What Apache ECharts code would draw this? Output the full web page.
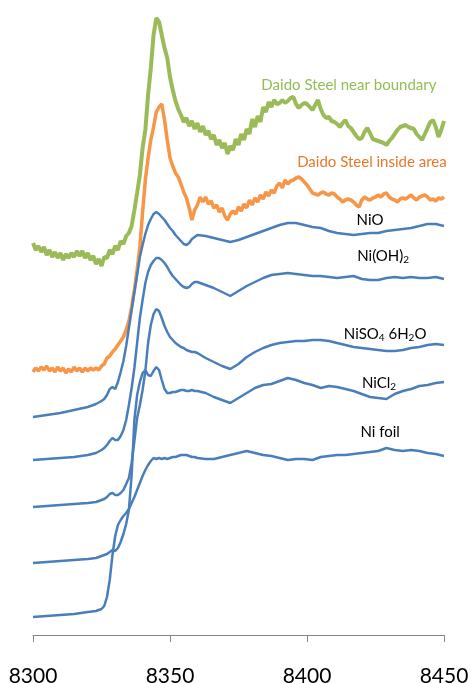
<!DOCTYPE html>
<html>
<head>
<meta charset="utf-8">
<script src="https://cdn.jsdelivr.net/npm/echarts@6/dist/echarts.min.js"></script>
<style>
html,body{margin:0;padding:0;background:#fff;}
#chart{width:471px;height:683px;}
</style>
</head>
<body>
<div id="chart"></div>
<script>
// Energy grid (eV) for the noisy sample scans
const energySample = [8300,8301,8302,8303,8304,8305,8306,8307,8308,8309,
8310,8311,8312,8313,8314,8315,8316,8317,8318,8319,
8320,8321,8322,8323,8324,8325,8326,8327,8328,8329,
8330,8331,8332,8333,8334,8335,8336,8337,8338,8339,
8340,8341,8342,8343,8344,8345,8346,8347,8348,8349,
8350,8351,8352,8353,8354,8355,8356,8357,8358,8359,
8360,8361,8362,8363,8364,8365,8366,8367,8368,8369,
8370,8371,8372,8373,8374,8375,8376,8377,8378,8379,
8380,8381,8382,8383,8384,8385,8386,8387,8388,8389,
8390,8391,8392,8393,8394,8395,8396,8397,8398,8399,
8400,8401,8402,8403,8404,8405,8406,8407,8408,8409,
8410,8411,8412,8413,8414,8415,8416,8417,8418,8419,
8420,8421,8422,8423,8424,8425,8426,8427,8428,8429,
8430,8431,8432,8433,8434,8435,8436,8437,8438,8439,
8440,8441,8442,8443,8444,8445,8446,8447,8448,8449,
8450];

const daidoBoundary = [3.92,3.85,3.89,3.83,3.88,3.80,3.85,3.78,3.83,3.77,
3.82,3.75,3.81,3.77,3.82,3.78,3.84,3.79,3.84,3.77,
3.82,3.75,3.79,3.71,3.76,3.69,3.78,3.77,3.85,3.81,
3.89,3.85,3.94,3.91,3.99,4.02,4.09,4.25,4.42,4.60,
4.87,5.05,5.40,5.67,6.00,6.17,6.13,6.00,5.87,5.77,
5.58,5.45,5.34,5.26,5.20,5.13,5.17,5.09,5.14,5.06,
5.12,5.03,5.09,5.00,5.04,4.96,5.00,4.90,4.95,4.87,
4.92,4.81,4.89,4.85,4.96,4.90,5.01,4.95,5.06,5.01,
5.16,5.08,5.19,5.13,5.28,5.23,5.33,5.28,5.35,5.31,
5.32,5.35,5.32,5.34,5.37,5.38,5.31,5.27,5.30,5.32,
5.31,5.28,5.25,5.30,5.35,5.26,5.20,5.17,5.18,5.14,
5.13,5.11,5.08,5.12,5.15,5.09,5.07,5.03,4.99,4.96,
4.97,5.03,5.07,5.02,4.96,4.95,4.94,4.93,4.92,4.90,
4.94,4.97,5.01,5.05,5.08,5.09,5.10,5.08,5.07,5.06,
5.01,4.98,4.95,5.01,5.07,5.13,5.15,5.08,4.98,5.05,
5.14];

const daidoInside = [2.63,2.67,2.64,2.68,2.65,2.69,2.64,2.67,2.63,2.68,
2.64,2.67,2.62,2.66,2.63,2.68,2.64,2.67,2.63,2.67,
2.64,2.67,2.65,2.67,2.65,2.69,2.71,2.77,2.79,2.83,
2.86,2.90,2.94,2.98,3.05,3.14,3.28,3.45,3.65,3.88,
4.23,4.55,4.77,4.95,5.08,5.23,5.28,5.31,5.15,4.95,
4.77,4.69,4.62,4.58,4.51,4.43,4.37,4.27,4.15,4.25,
4.30,4.38,4.33,4.38,4.31,4.34,4.27,4.30,4.23,4.27,
4.19,4.15,4.21,4.24,4.21,4.28,4.24,4.31,4.27,4.35,
4.30,4.37,4.33,4.40,4.36,4.43,4.39,4.45,4.42,4.49,
4.52,4.47,4.55,4.51,4.54,4.55,4.57,4.58,4.56,4.53,
4.50,4.46,4.42,4.41,4.40,4.42,4.43,4.41,4.40,4.42,
4.41,4.38,4.36,4.33,4.35,4.36,4.35,4.33,4.30,4.28,
4.35,4.38,4.36,4.35,4.37,4.38,4.40,4.38,4.41,4.42,
4.38,4.36,4.35,4.33,4.36,4.37,4.36,4.38,4.40,4.37,
4.35,4.38,4.39,4.40,4.38,4.35,4.36,4.34,4.37,4.36,
4.38];

// Energy grid (eV) for the reference compounds
const energyRef = [8300,8305,8310,8315,8320,8323,8325,
8326,8327,8328,8329,8330,8331,8332,8333,8334,8335,
8336,8337,8338,8339,8340,8341,8342,8343,8344,8345,
8346,8347,8348,8349,8350,8351,8352,8353,8354,8355,
8356,8357,8358,8359,8360,
8363,8366,8369,8372,8375,8378,8381,8384,8387,8390,
8393,8396,8399,8402,8405,8408,8411,8414,8417,8420,
8423,8426,8429,8432,8435,8438,8441,8444,8447,8450];

const niO = [2.18,2.20,2.22,2.25,2.28,2.31,2.34,
2.36,2.40,2.46,2.48,2.46,2.53,2.63,2.74,2.89,3.07,
3.25,3.43,3.60,3.78,3.90,4.01,4.10,4.16,4.21,4.23,
4.21,4.18,4.15,4.11,4.07,4.04,4.00,3.97,3.94,3.91,
3.90,3.92,3.96,3.98,4.00,
3.99,3.97,3.95,3.93,3.95,3.98,4.01,4.04,4.07,4.10,
4.12,4.12,4.10,4.08,4.07,4.04,4.02,4.01,4.00,4.01,
4.02,4.02,4.04,4.05,4.06,4.07,4.09,4.11,4.11,4.09];

const niOH2 = [1.75,1.76,1.77,1.78,1.80,1.82,1.85,
1.87,1.90,1.94,1.97,1.95,1.95,1.99,2.05,2.15,2.30,
2.47,2.67,2.92,3.17,3.35,3.52,3.63,3.70,3.74,3.77,
3.77,3.75,3.72,3.68,3.63,3.59,3.56,3.53,3.50,3.48,
3.47,3.48,3.51,3.53,3.53,
3.50,3.47,3.43,3.39,3.44,3.49,3.53,3.57,3.60,3.61,
3.62,3.61,3.60,3.59,3.59,3.58,3.57,3.58,3.59,3.56,
3.55,3.55,3.57,3.58,3.57,3.58,3.57,3.57,3.58,3.56];

const niSO4 = [1.28,1.29,1.30,1.31,1.32,1.33,1.35,
1.36,1.38,1.41,1.42,1.40,1.40,1.42,1.45,1.51,1.57,
1.72,1.94,2.17,2.30,2.45,2.64,2.92,3.10,3.21,3.26,
3.24,3.17,3.09,3.03,2.98,2.95,2.92,2.90,2.88,2.87,
2.85,2.84,2.83,2.83,2.82,
2.77,2.73,2.69,2.66,2.71,2.78,2.83,2.87,2.90,2.92,
2.93,2.94,2.94,2.95,2.95,2.94,2.92,2.90,2.88,2.87,
2.86,2.85,2.84,2.84,2.85,2.87,2.88,2.90,2.91,2.90];

const niCl2 = [0.72,0.73,0.74,0.75,0.76,0.77,0.79,
0.80,0.81,0.83,0.85,0.84,0.87,0.93,1.01,1.11,1.25,
1.60,2.15,2.40,2.53,2.62,2.65,2.60,2.59,2.64,2.68,
2.65,2.55,2.46,2.42,2.42,2.43,2.43,2.44,2.45,2.45,
2.44,2.44,2.45,2.44,2.44,
2.42,2.38,2.35,2.32,2.37,2.42,2.47,2.50,2.51,2.54,
2.57,2.55,2.52,2.50,2.47,2.49,2.48,2.46,2.44,2.41,
2.38,2.37,2.36,2.41,2.44,2.46,2.49,2.50,2.52,2.53];

const niFoil = [0.18,0.19,0.20,0.21,0.23,0.24,0.26,
0.29,0.38,0.55,0.80,0.99,1.10,1.15,1.19,1.22,1.26,
1.32,1.38,1.45,1.52,1.59,1.65,1.70,1.74,1.77,1.76,
1.77,1.76,1.77,1.76,1.77,1.78,1.78,1.79,1.80,1.80,
1.80,1.79,1.78,1.78,1.77,
1.76,1.76,1.78,1.80,1.82,1.84,1.82,1.80,1.79,1.77,
1.75,1.76,1.76,1.75,1.78,1.79,1.80,1.80,1.81,1.82,
1.83,1.84,1.87,1.85,1.84,1.85,1.84,1.82,1.81,1.79];

// x-axis ticks
const xTicks = [8300, 8350, 8400, 8450];

// Series label texts (rich text for subscripts) and anchor points [eV, value]
const labelText = {
  boundary: '{m|Daido Steel near boundary}',
  inside: '{m|Daido Steel inside area}',
  niO: '{m|NiO}',
  niOH2: '{m|Ni(OH)}{s|2}',
  niSO4: '{m|NiSO}{s|4}{m| 6H}{s|2}{m|O}',
  niCl2: '{m|NiCl}{s|2}',
  niFoil: '{m|Ni foil}'
};
const labelAt = {
  boundary: [8415.3, 5.50],
  inside: [8423.7, 4.73],
  niO: [8423, 4.15],
  niOH2: [8427.8, 3.79],
  niSO4: [8428.5, 3.01],
  niCl2: [8426.3, 2.52],
  niFoil: [8426.7, 2.03]
};

const BLUE = '#4A7EBB', GREEN = '#9BBB59', ORANGE = '#F79646';
const FONT = 'Lato, "Open Sans", sans-serif';

function pairs(xs, ys) { return xs.map((x, i) => [x, ys[i]]); }

function mk(key, color) {
  return {
    symbol: 'circle', symbolSize: 0, silent: true,
    itemStyle: { color: 'rgba(0,0,0,0)' },
    label: {
      show: true, position: 'inside', formatter: labelText[key],
      rich: {
        m: { fontFamily: FONT, fontSize: 15, color: color },
        s: { fontFamily: FONT, fontSize: 10, color: color, padding: [8, 0, 0, 0] }
      }
    },
    data: [{ coord: labelAt[key] }]
  };
}

function line(name, xs, ys, color, width, key, labelColor) {
  return {
    name: name, type: 'line', data: pairs(xs, ys),
    showSymbol: false, symbol: 'none', smooth: false, clip: false,
    lineStyle: { color: color, width: width },
    itemStyle: { color: color },
    markPoint: mk(key, labelColor),
    animation: false
  };
}

const chart = echarts.init(document.getElementById('chart'), null, { renderer: 'canvas' });
chart.setOption({
  animation: false,
  backgroundColor: '#ffffff',
  grid: { left: 33, right: 27, top: 0, bottom: 48, containLabel: false, outerBoundsMode: 'none' },
  xAxis: {
    type: 'value', min: xTicks[0], max: xTicks[xTicks.length - 1], interval: 50,
    splitLine: { show: false },
    axisLine: { show: true, onZero: false, lineStyle: { color: '#868686', width: 1 } },
    axisTick: { show: true, length: 7, lineStyle: { color: '#868686' } },
    axisLabel: { fontFamily: FONT, fontSize: 21, color: '#000', margin: 31,
      formatter: function (v) { return String(v); } }
  },
  yAxis: { type: 'value', min: 0, max: 6.35, show: false, splitLine: { show: false } },
  series: [
    line('Daido Steel near boundary', energySample, daidoBoundary, GREEN, 4, 'boundary', '#92BF55'),
    line('Daido Steel inside area', energySample, daidoInside, ORANGE, 3.5, 'inside', '#E8782C'),
    line('NiO', energyRef, niO, BLUE, 2.5, 'niO', '#000'),
    line('Ni(OH)2', energyRef, niOH2, BLUE, 2.5, 'niOH2', '#000'),
    line('NiSO4 6H2O', energyRef, niSO4, BLUE, 2.5, 'niSO4', '#000'),
    line('NiCl2', energyRef, niCl2, BLUE, 2.5, 'niCl2', '#000'),
    line('Ni foil', energyRef, niFoil, BLUE, 2.5, 'niFoil', '#000')
  ]
});
</script>
</body>
</html>
